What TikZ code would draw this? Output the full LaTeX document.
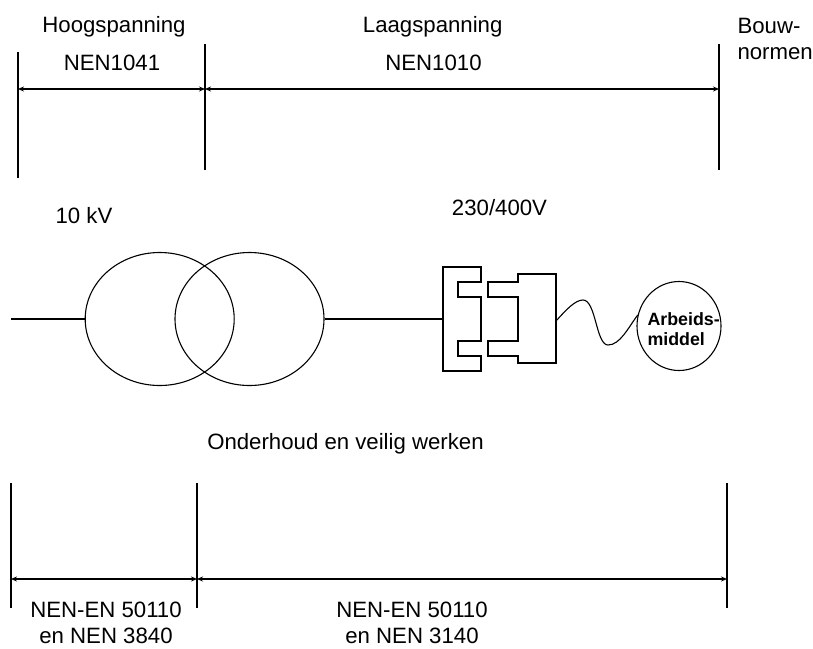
\documentclass[tikz,border=0pt]{standalone}
\usepackage{fontspec}
\setmainfont{Liberation Sans}
\usetikzlibrary{arrows.meta, shapes.geometric, positioning}
\begin{document}
\begin{tikzpicture}[x=1pt, y=-1pt, >=Stealth, line width=1.1pt,
    label/.style={font=\fontsize{22.2}{27}\selectfont, inner sep=0pt, anchor=base},
    twolines/.style={font=\fontsize{22.2}{26}\selectfont, inner sep=0pt, align=center},
    span/.style={<->, >={Stealth[length=6pt, width=5pt]}},
    coil/.style={ellipse, draw, minimum width=149pt, minimum height=133pt, inner sep=0pt}]

    \useasboundingbox (0,0) rectangle (813,648);

    % top limits
    \coordinate (t1) at (18,52);   \coordinate (b1) at (18,178);
    \coordinate (t2) at (205,44);  \coordinate (b2) at (205,170);
    \coordinate (t3) at (719,44);  \coordinate (b3) at (719,170);
    \draw (t1) -- (b1);
    \draw (t2) -- (b2);
    \draw (t3) -- (b3);
    \coordinate (a1) at (18,89);
    \coordinate (a2) at (205,89);
    \coordinate (a3) at (719,89);
    \draw[span] (a1) -- (a2);
    \draw[span] (a2) -- (a3);

    \node[label] (hoog) at (114,32.7) {Hoogspanning};
    \node[label] (laag) at (432.7,32.7) {Laagspanning};
    \node[label] (nen1041) at (112,70.7) {NEN1041};
    \node[label] (nen1010) at (433.5,70.7) {NEN1010};
    \node[twolines, align=left, anchor=west] (bouw) at (737,39) {Bouw-\\normen};

    \node[label] (kv) at (84,223) {10 kV};
    \node[label] (volt) at (499.5,215) {230/400V};

    % transformer
    \node[coil] (prim) at (159.7,319) {};
    \node[coil] (sec) at (249.5,319) {};
    \coordinate (in) at (11,319);
    \coordinate (plugL) at (443,319);
    \draw (in) -- (prim.west);
    \draw (sec.east) -- (plugL);

    % plug and socket
    \draw (443,267) -- (481,267) -- (481,282) -- (458,282) -- (458,297) -- (481,297)
      -- (481,341) -- (458,341) -- (458,356) -- (481,356) -- (481,371) -- (443,371) -- cycle;
    \draw (518,274) -- (556,274) -- (556,363) -- (518,363) -- (518,356) -- (488,356)
      -- (488,341) -- (518,341) -- (518,297) -- (488,297) -- (488,282) -- (518,282) -- cycle;

    % device
    \node[draw, ellipse, minimum width=84pt, minimum height=89pt, inner sep=0pt] (device) at (679,326) {};
    \node[inner sep=0pt, align=left, anchor=west,
      font=\fontsize{17.8}{20}\selectfont\bfseries] (devicetext) at (647,329) {Arbeids-\\middel};
    \coordinate (cordS) at (556,321);
    \draw (cordS) .. controls (566,310) and (575,300) .. (583,300)
      .. controls (596,300) and (596,345) .. (608,345)
      .. controls (620,345) and (628,328) .. (device.165);

    \node[label] (work) at (345.5,449) {Onderhoud en veilig werken};

    % bottom limits
    \coordinate (t4) at (11,483);   \coordinate (b4) at (11,608);
    \coordinate (t5) at (197,483);  \coordinate (b5) at (197,608);
    \coordinate (t6) at (727,483);  \coordinate (b6) at (727,608);
    \draw (t4) -- (b4);
    \draw (t5) -- (b5);
    \draw (t6) -- (b6);
    \coordinate (a4) at (11,579);
    \coordinate (a5) at (197,579);
    \coordinate (a6) at (727,579);
    \draw[span] (a4) -- (a5);
    \draw[span] (a5) -- (a6);

    \node[twolines] (en1) at (106,623) {NEN-EN 50110\\en NEN 3840};
    \node[twolines] (en2) at (412,623) {NEN-EN 50110\\en NEN 3140};
\end{tikzpicture}
\end{document}
